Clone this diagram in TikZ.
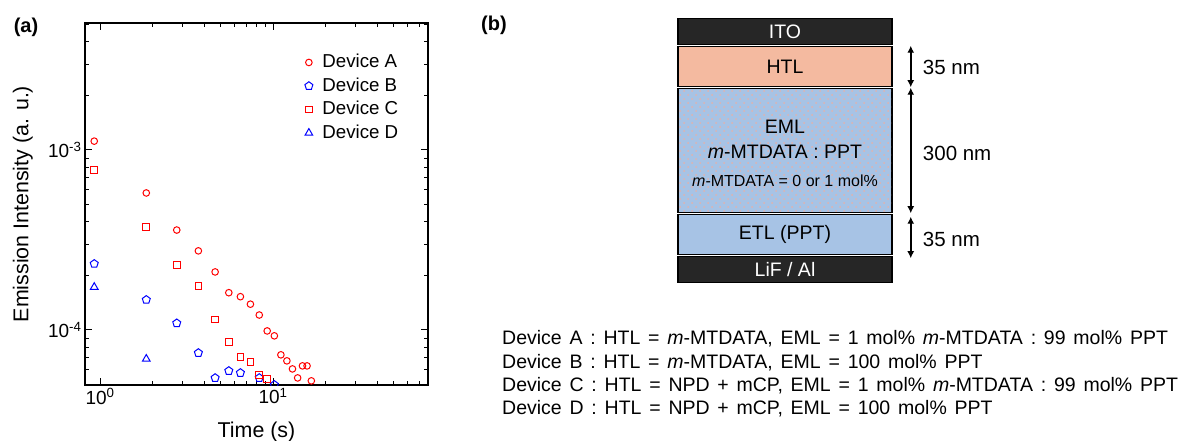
\documentclass[tikz,border=0pt]{standalone}
\usepackage{fontspec}
\setmainfont{Liberation Sans}
\usepackage{pgfplots}
\pgfplotsset{compat=1.18}
\usetikzlibrary{
    arrows.meta,
    positioning,
}

\definecolor{itodark}{RGB}{38,38,38}
\definecolor{htlsalmon}{RGB}{244,186,160}
\definecolor{emlblue}{RGB}{167,195,229}
\definecolor{dotpink}{RGB}{226,178,172}

\newcommand\widespaces{\setlength{\spaceskip}{0.4em}}

\tikzset{
    layer/.style={draw=black, line width=1.5pt, minimum width=214pt, inner sep=0pt,
        align=center, font=\fontsize{19.5}{25}\selectfont},
    darklayer/.style={layer, fill=itodark, text=white},
    emldot/.style={fill=dotpink},
    dimarrow/.style={{Latex[length=7pt,width=7pt]}-{Latex[length=7pt,width=7pt]}, line width=1.5pt},
    dimlabel/.style={anchor=west, inner sep=0pt, font=\fontsize{20.5}{24}\selectfont},
    panel/.style={inner sep=0pt, font=\fontsize{20}{24}\selectfont\bfseries},
    devtext/.style={anchor=west, align=left, inner sep=0pt,
        font=\fontsize{19.5}{23.3}\selectfont\widespaces},
}

\pgfplotsset{
    devmark/.style={only marks, mark size=3.3pt, line width=1pt},
}

\begin{document}
\begin{tikzpicture}[x=1pt, y=1pt]
    \useasboundingbox (0,0) rectangle (1188,441);

    % (a) decay curves
    \node[panel] (pa) at (26,414) {(a)};
    \begin{axis}[
        at={(85pt,56pt)}, anchor=south west,
        scale only axis, width=343pt, height=362pt,
        xmode=log, ymode=log,
        xmin=0.818, xmax=78.7, ymin=4.94e-5, ymax=5.08e-3,
        xtick={1,10}, xticklabels={10\textsuperscript{0},10\textsuperscript{1}},
        ytick={1e-4,1e-3}, yticklabels={10\textsuperscript{-4},10\textsuperscript{-3}},
        minor xtick={2,3,4,5,6,7,8,9,20,30,40,50,60,70},
        minor ytick={6e-5,7e-5,8e-5,9e-5,2e-4,3e-4,4e-4,5e-4,6e-4,7e-4,8e-4,9e-4,2e-3,3e-3,4e-3,5e-3},
        major tick length=7pt, minor tick length=4pt,
        tick style={black, line width=1pt},
        axis line style={line width=1.8pt},
        ticklabel style={font=\fontsize{19}{19}\selectfont},
        xlabel={Time (s)}, ylabel={Emission Intensity (a. u.)},
        label style={font=\fontsize{21.4}{24}\selectfont},
        xlabel style={at={(axis description cs:0.5,-0.13)}, anchor=center},
        ylabel style={at={(axis description cs:-0.181,0.5)}, anchor=center},
        clip marker paths=true,
        legend cell align=left,
        legend image code/.code={\draw[#1] plot coordinates {(4pt,0pt)};},
        legend style={draw=none, fill=none, at={(0.6405,0.924)}, anchor=north west,
            font=\fontsize{18.7}{22}\selectfont, inner sep=0pt, row sep=0pt, column sep=6pt,
            nodes={text height=13.5pt, text depth=3pt, inner sep=3.5pt}},
    ]
        \addplot[devmark, mark=o, red] coordinates {
            (0.925,1.12e-3) (1.85,5.77e-4) (2.775,3.59e-4) (3.7,2.75e-4)
            (4.625,2.10e-4) (5.55,1.61e-4) (6.475,1.53e-4) (7.4,1.39e-4)
            (8.325,1.21e-4) (9.25,9.87e-5) (10.175,9.27e-5) (11.1,7.27e-5)
            (12.025,6.73e-5) (12.95,6.07e-5) (13.875,5.41e-5) (14.8,6.31e-5)
            (15.725,6.31e-5) (16.65,5.21e-5) (22.2,4.75e-5)
        };
        \addlegendentry{Device A}
        \addplot[devmark, mark=pentagon, mark size=4.2pt, blue] coordinates {
            (0.925,2.33e-4) (1.85,1.47e-4) (2.775,1.09e-4) (3.7,7.45e-5)
            (4.625,5.41e-5) (5.55,5.92e-5) (6.475,5.77e-5) (8.325,5.41e-5)
            (10.175,4.95e-5)
        };
        \addlegendentry{Device B}
        \addplot[devmark, mark=square, red] coordinates {
            (0.925,7.74e-4) (1.85,3.74e-4) (2.775,2.30e-4) (3.7,1.75e-4)
            (4.625,1.14e-4) (5.55,8.58e-5) (6.475,7.08e-5) (7.4,6.64e-5)
            (8.325,5.62e-5) (9.25,5.35e-5)
        };
        \addlegendentry{Device C}
        \addplot[devmark, mark=triangle, mark size=4.4pt, blue] coordinates {
            (0.925,1.73e-4) (1.85,6.9e-5)
        };
        \addlegendentry{Device D}
    \end{axis}

    % (b) device stack
    \node[panel] (pb) at (494,416) {(b)};
    \node[darklayer, minimum height=26pt] (ito) at (785,409.5) {ITO};
    \node[layer, fill=htlsalmon, minimum height=40pt, below=0.5pt of ito] (htl) {HTL};
    \node[layer, fill=emlblue, minimum height=124pt, below=0.5pt of htl] (eml) {};
    \begin{scope}
        \clip ([shift={(1.5pt,-1.5pt)}]eml.north west) rectangle ([shift={(-1.5pt,1.5pt)}]eml.south east);
        \foreach \x in {680,688,...,896}
            \foreach \y in {226,234,...,354} {
                \fill[emldot] (\x,\y) circle (1pt);
                \fill[emldot] (\x+4,\y+4) circle (1pt);
            }
    \end{scope}
    \node[align=center, inner sep=0pt, font=\fontsize{19.5}{25}\selectfont] (emltext)
        at ([yshift=-3pt]eml.center)
        {EML\\ \textit{m}-MTDATA : PPT\\[3pt]
         {\fontsize{16}{20}\selectfont\textit{m}-MTDATA = 0 or 1 mol\%}};
    \node[layer, fill=emlblue, minimum height=40pt, below=0.5pt of eml] (etl) {ETL (PPT)};
    \node[darklayer, minimum height=26pt, below=0.5pt of etl] (lif) {LiF / Al};

    \draw[dimarrow] ([xshift=18pt]htl.north east) -- ([xshift=18pt]htl.south east);
    \draw[dimarrow] ([xshift=18pt]eml.north east) -- ([xshift=18pt]eml.south east);
    \draw[dimarrow] ([xshift=18pt,yshift=-3pt]etl.north east) -- ([xshift=18pt,yshift=-3pt]etl.south east);
    \node[dimlabel] (htlnm) at ([xshift=30pt,yshift=-1pt]htl.east) {35 nm};
    \node[dimlabel] (emlnm) at ([xshift=30pt,yshift=-3pt]eml.east) {300 nm};
    \node[dimlabel] (etlnm) at ([xshift=30pt,yshift=-5pt]etl.east) {35 nm};

    \node[devtext] (devices) at (502,67) {%
        Device A : HTL = \textit{m}-MTDATA, EML = 1 mol\% \textit{m}-MTDATA : 99 mol\% PPT\\
        Device B : HTL = \textit{m}-MTDATA, EML = 100 mol\% PPT\\
        Device C : HTL = NPD + mCP, EML = 1 mol\% \textit{m}-MTDATA : 99 mol\% PPT\\
        Device D : HTL = NPD + mCP, EML = 100 mol\% PPT};
\end{tikzpicture}
\end{document}
